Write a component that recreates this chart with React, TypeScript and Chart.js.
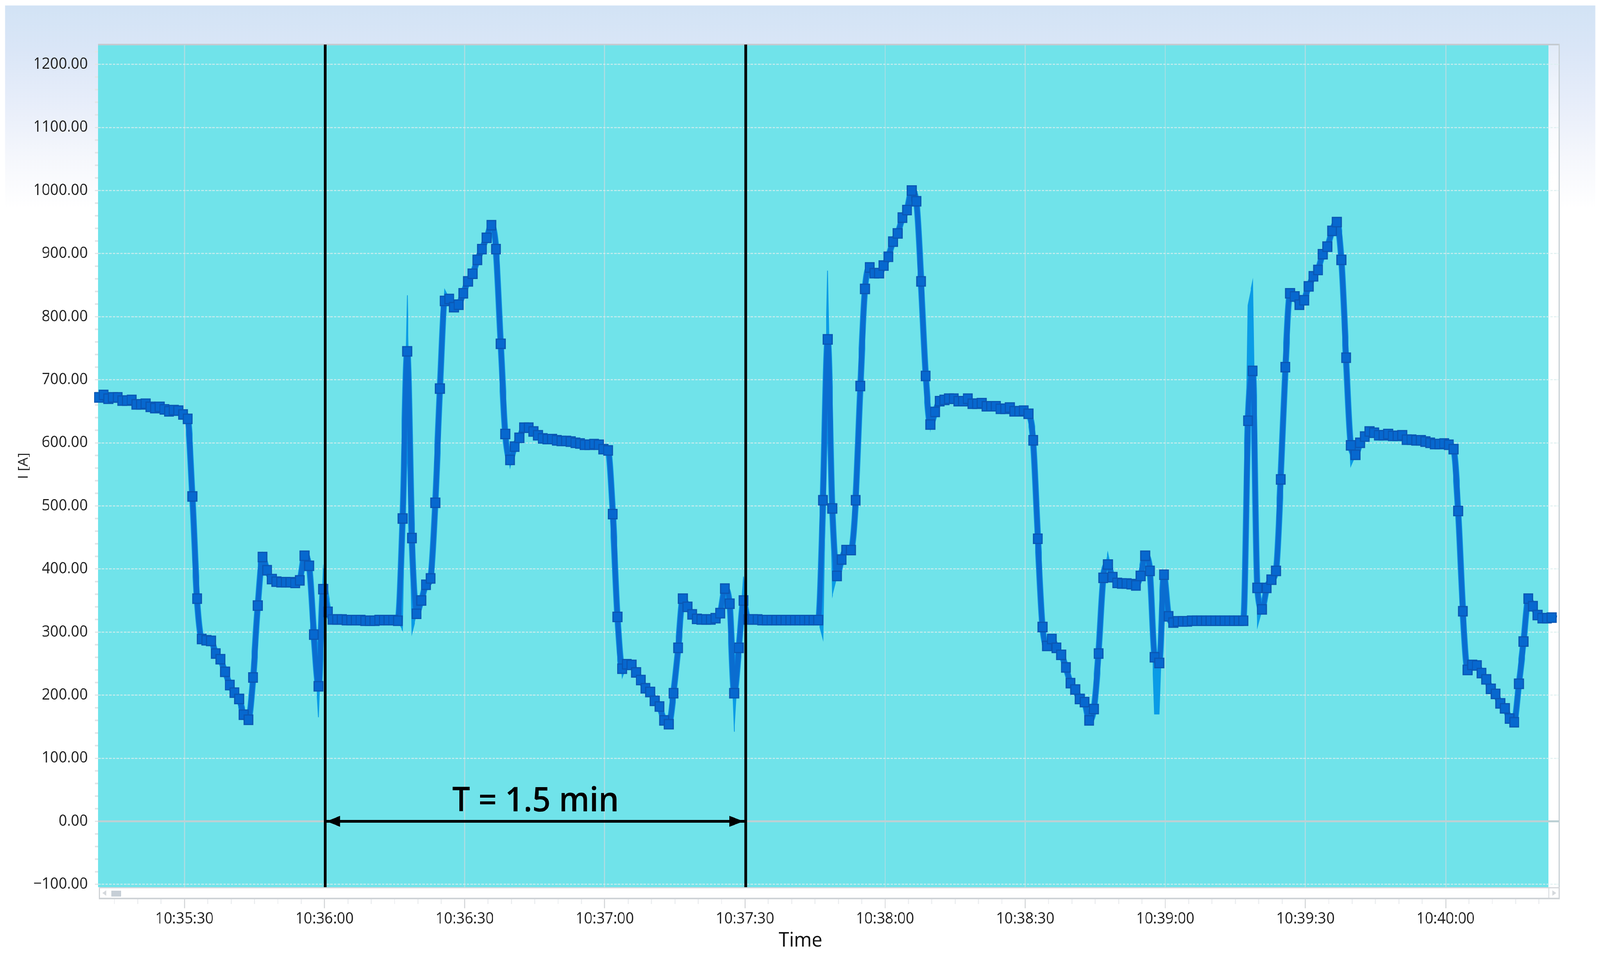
import React, { useEffect, useRef, useState } from "react";
import { Chart, registerables } from "chart.js";

Chart.register(...registerables);

// Sampled once per second. First sample at 10:35:11.7
const firstSampleSecond = 11.7;
const segmentA = [672,676,670,672,672,667,667,668,661,661,662,657,655,657,653,650,652,651,645,638];
const segmentB = [515,353,289,287,286,266,257,237,216,204,194,169,161,228,342,419,398,384,380,379,379,379,378,382,421,405,296,214,368,332];
const segmentC = [320,320,320,319,319,319,319,318,318,318,319,319,319,319,318];
const segmentD = [480,745,449,329,350,375,385,505,686,825,828,815,819,837,856,868,890,907,925,945,907,757,614,573,594,608,624,624,618,612,607,606,606,604,603,603,602,600,599,597,597,598,597,590,588,487];
const segmentE = [324,242,249,248,236,224,211,205,191,182,160,154,203,275,353,340,328,321,320,320,320,322,330,369,345,203,275,350];
const segmentF = [320,320,320,319,319,319,319,319,319,319,319,319,319,319,319,319];
const segmentG = [509,764,496,389,415,430,430,509,690,844,878,869,869,881,895,919,932,957,969,1000,983,856,706,629,649,666,668,670,670,666,666,670,662,662,663,658,658,658,654,654,656,650,650,651,646,604,448,308];
const segmentH = [278,289,275,264,244,219,209,194,189,160,178,266,386,407,387,378,377,377,376,374,389,421,397,260,251,391,325,315,317];
const segmentI = [317,317,318,318,318,318,318,318,318,318,318,318,318,318];
const segmentJ = [635,714,370,336,370,383,397,542,720,837,832,819,826,848,864,874,899,911,936,950,890,735,596,581,600,610,618,616,612,612,614,611,611,612,605,605,604,604,602,600,598,598,599,597,590,492,333];
const segmentK = [240,248,247,235,225,210,202,187,179,163,157,218,285,353,341,327,322,322,323,321];

// Per-sample extremes that leave the averaged trace (the light blue spikes)
const highTimes = [46.7,59.7,60.7,77.7,85.7,103.7,149.7,167.7,185.7,227.7,240.7,257.7,258.7];
const highValues = [425,403,365,834,843,630,388,873,1004,426,340,818,856];
const lowTimes = [58.7,76.7,78.7,99.7,123.7,147.7,166.7,168.7,189.7,237.7,238.7,259.7,279.7];
const lowValues = [165,303,298,561,228,142,289,358,620,170,170,307,563];

const xTickValues = [30,60,90,120,150,180,210,240,270,300];
const xTickLabels = ["10:35:30","10:36:00","10:36:30","10:37:00","10:37:30","10:38:00","10:38:30","10:39:00","10:39:30","10:40:00"];
const periodLineTimes = [60.15,150.15];
const periodLabel = "T = 1.5 min";
const xAxisTitle = "Time";
const yAxisTitle = "I [A]";

const currentValues = [
  ...segmentA, ...segmentB, ...segmentC, ...segmentD, ...segmentE, ...segmentF,
  ...segmentG, ...segmentH, ...segmentI, ...segmentJ, ...segmentK,
];

const X_MIN = 11.5, X_MAX = 324.3, Y_MIN = -104.4, Y_MAX = 1231.4;
const FONT = '"Open Sans", "Noto Sans", sans-serif';

const points = (vals: number[]) => vals.map((y, i) => ({ x: firstSampleSecond + i, y }));
const withOverrides = (times: number[], vals: number[]) => {
  const out = currentValues.slice();
  times.forEach((t, k) => { out[Math.round(t - firstSampleSecond)] = vals[k]; });
  return out;
};

const decoration = {
  id: "decoration",
  beforeDraw(chart: any) {
    const { ctx, chartArea: a } = chart;
    ctx.save();
    ctx.fillStyle = "#70e3ea";
    ctx.fillRect(a.left, a.top, a.right - 29 - a.left, a.bottom - a.top);
    const stripe = ctx.createLinearGradient(0, a.top, 0, a.top + 400);
    stripe.addColorStop(0, "rgba(255,255,255,0.2)");
    stripe.addColorStop(1, "rgba(255,255,255,1)");
    ctx.fillStyle = stripe;
    ctx.fillRect(a.right - 29, a.top, 29, a.bottom - a.top);
    ctx.fillStyle = "#c4cad0";
    ctx.fillRect(a.left, a.top - 2, a.right - a.left + 1, 4);
    ctx.fillStyle = "#c8d0d5";
    ctx.fillRect(a.right - 1, a.top - 2, 3, a.bottom - a.top + 30);
    const yScale = chart.scales.y;
    ctx.fillStyle = "#e2e5e7";
    for (let v = -100; v <= 1220; v += 20) {
      if (v % 100 === 0) continue;
      ctx.fillRect(a.left - 8, yScale.getPixelForValue(v) - 2, 8, 4);
    }
    ctx.restore();
  },
  afterDatasetsDraw(chart: any) {
    const { ctx } = chart;
    const xs = chart.scales.x, ys = chart.scales.y;
    const y0 = ys.getPixelForValue(0);
    const x0 = xs.getPixelForValue(periodLineTimes[0]);
    const x1 = xs.getPixelForValue(periodLineTimes[1]);
    ctx.save();
    ctx.fillStyle = "#000";
    ctx.beginPath();
    ctx.moveTo(x0 + 4, y0);
    ctx.lineTo(x0 + 40, y0 - 14);
    ctx.lineTo(x0 + 40, y0 + 14);
    ctx.closePath();
    ctx.moveTo(x1 - 6, y0);
    ctx.lineTo(x1 - 44, y0 - 14);
    ctx.lineTo(x1 - 44, y0 + 14);
    ctx.closePath();
    ctx.fill();
    ctx.font = `600 87px ${FONT}`;
    ctx.textAlign = "center";
    ctx.textBaseline = "alphabetic";
    ctx.fillText(periodLabel, xs.getPixelForValue((periodLineTimes[0] + periodLineTimes[1]) / 2), ys.getPixelForValue(16));
    ctx.restore();
  },
  afterDraw(chart: any) {
    const { ctx, chartArea: a } = chart;
    const xs = chart.scales.x;
    ctx.save();
    // scroll bar under the plot
    const top = a.bottom + 2, bottom = a.bottom + 27;
    ctx.fillStyle = "#ffffff";
    ctx.fillRect(a.left + 2, top, a.right - a.left - 1, bottom - top);
    ctx.fillStyle = "#d6d9dc";
    ctx.fillRect(a.left + 2, top - 2, a.right - a.left, 3);
    ctx.fillStyle = "#cfd3d7";
    ctx.fillRect(a.left + 2, bottom, a.right - a.left, 4);
    ctx.fillRect(a.left + 2, top, 3, bottom - top);
    ctx.fillRect(a.right - 1, top, 3, bottom - top);
    ctx.fillStyle = "#c6ced6";
    ctx.fillRect(a.left + 36, top + 7, 27, 15);
    ctx.fillStyle = "#d4d8dc";
    ctx.beginPath();
    ctx.moveTo(a.left + 12, top + 13);
    ctx.lineTo(a.left + 22, top + 6);
    ctx.lineTo(a.left + 22, top + 20);
    ctx.closePath();
    ctx.moveTo(a.right - 8, top + 13);
    ctx.lineTo(a.right - 18, top + 6);
    ctx.lineTo(a.right - 18, top + 20);
    ctx.closePath();
    ctx.fill();
    ctx.fillRect(a.right - 29, top, 2, bottom - top);
    // minor time ticks
    ctx.fillStyle = "#eceef0";
    for (let t = 15; t <= 320; t += 5) {
      if (t % 30 === 0) continue;
      ctx.fillRect(xs.getPixelForValue(t) - 1.5, bottom + 4, 3, 12);
    }
    // x axis title, left of the axis centre as in the source
    ctx.fillStyle = "#111";
    ctx.font = `400 52px ${FONT}`;
    ctx.textAlign = "center";
    ctx.textBaseline = "alphabetic";
    ctx.fillText(xAxisTitle, xs.getPixelForValue(161.9), a.bottom + 152);
    ctx.restore();
  },
};

export default function App() {
  const ref = useRef<HTMLCanvasElement | null>(null);
  const [scale] = useState(() => ({ x: window.innerWidth / 4341, y: window.innerHeight / 2441 }));
  useEffect(() => {
    document.body.style.margin = "0";
    document.body.style.overflow = "hidden";
    document.body.style.background = "#fff";
    const sharedLine = { pointRadius: 0, pointHoverRadius: 0, fill: false };
    const datasets: any[] = [
      ...periodLineTimes.map((t) => ({
        ...sharedLine, label: "period", order: 0, borderColor: "#000", borderWidth: 7, tension: 0, clip: 3,
        data: [{ x: t, y: Y_MIN }, { x: t, y: Y_MAX }],
      })),
      {
        ...sharedLine, label: "period span", order: 0, borderColor: "#000", borderWidth: 7, tension: 0,
        data: [{ x: periodLineTimes[0], y: 0 }, { x: periodLineTimes[1], y: 0 }],
      },
      {
        label: "I [A]", order: 1, data: points(currentValues),
        borderColor: "#0a6dd0", borderWidth: 13, cubicInterpolationMode: "monotone", clip: 30,
        pointStyle: "rect", backgroundColor: "#0768cf", pointBorderColor: "#0a57b4", pointBorderWidth: 3,
        pointRadius: currentValues.map((_, i) => (i === currentValues.length - 1 ? 0 : 17)),
        pointHoverRadius: 17, fill: false,
      },
      {
        ...sharedLine, label: "halo", order: 2, data: points(currentValues),
        borderColor: "#0a8fe2", borderWidth: 17, cubicInterpolationMode: "monotone",
      },
      {
        ...sharedLine, label: "max", order: 3, data: points(withOverrides(highTimes, highValues)),
        borderColor: "#0a9be6", borderWidth: 2, tension: 0, fill: "+1", backgroundColor: "#0a9be6",
      },
      {
        ...sharedLine, label: "min", order: 4, data: points(withOverrides(lowTimes, lowValues)),
        borderColor: "#0a9be6", borderWidth: 2, tension: 0,
      },
    ];
    const chart = new Chart(ref.current as HTMLCanvasElement, {
      type: "line",
      data: { datasets },
      plugins: [decoration],
      options: {
        animation: false,
        responsive: false,
        devicePixelRatio: 1,
        events: [],
        layout: { padding: { left: 0, top: 114, right: 111, bottom: 0 } },
        plugins: { legend: { display: false }, tooltip: { enabled: false }, title: { display: false } },
        scales: {
          x: {
            type: "linear", min: X_MIN, max: X_MAX,
            afterFit: (s: any) => { s.height = 171; },
            afterBuildTicks: (s: any) => { s.ticks = xTickValues.map((value) => ({ value })); },
            border: { display: false },
            grid: { color: "#a9dee3", lineWidth: 3, tickColor: "#d8dadc", tickWidth: 3, tickLength: 54 },
            ticks: {
              autoSkip: false, maxRotation: 0, padding: 4, color: "#222",
              font: { family: FONT, size: 40 },
              callback: (v: any) => xTickLabels[xTickValues.indexOf(Number(v))] ?? "",
            },
          },
          y: {
            type: "linear", min: Y_MIN, max: Y_MAX,
            afterFit: (s: any) => { s.width = 266; },
            border: {
              display: false,
              dash: (c: any) => (c.tick && c.tick.value === 0 ? [] : [7, 3]),
            },
            grid: {
              color: (c: any) => (c.tick && c.tick.value === 0 ? "#bcd0d4" : "rgba(218,238,238,0.72)"),
              lineWidth: (c: any) => (c.tick && c.tick.value === 0 ? 5 : 3),
              tickColor: "#e2e5e7", tickWidth: 3, tickLength: 8,
            },
            title: {
              display: true, text: yAxisTitle, color: "#222",
              font: { family: FONT, size: 37 }, padding: { top: 42, bottom: 0 },
            },
            ticks: {
              stepSize: 100, includeBounds: false, padding: 20, color: "#222",
              font: { family: FONT, size: 40 },
              callback: (v: any) => Number(v).toFixed(2).replace("-", "\u2212"),
            },
          },
        },
      } as any,
    });
    return () => chart.destroy();
  }, []);
  return (
    <div
      style={{
        position: "absolute", left: 0, top: 0, width: 4341, height: 2441, background: "#fff",
        transformOrigin: "0 0", transform: `scale(${scale.x}, ${scale.y})`,
      }}
    >
      <div
        style={{
          position: "absolute", left: 14, top: 14, width: 4314, height: 520,
          background: "linear-gradient(180deg,#d2e3f5 0%,#dae6f7 22%,#e8eefa 50%,#f5f7fc 75%,#ffffff 100%)",
        }}
      />
      <canvas ref={ref} width={4341} height={2441} style={{ position: "absolute", left: 0, top: 0, display: "block" }} />
    </div>
  );
}
